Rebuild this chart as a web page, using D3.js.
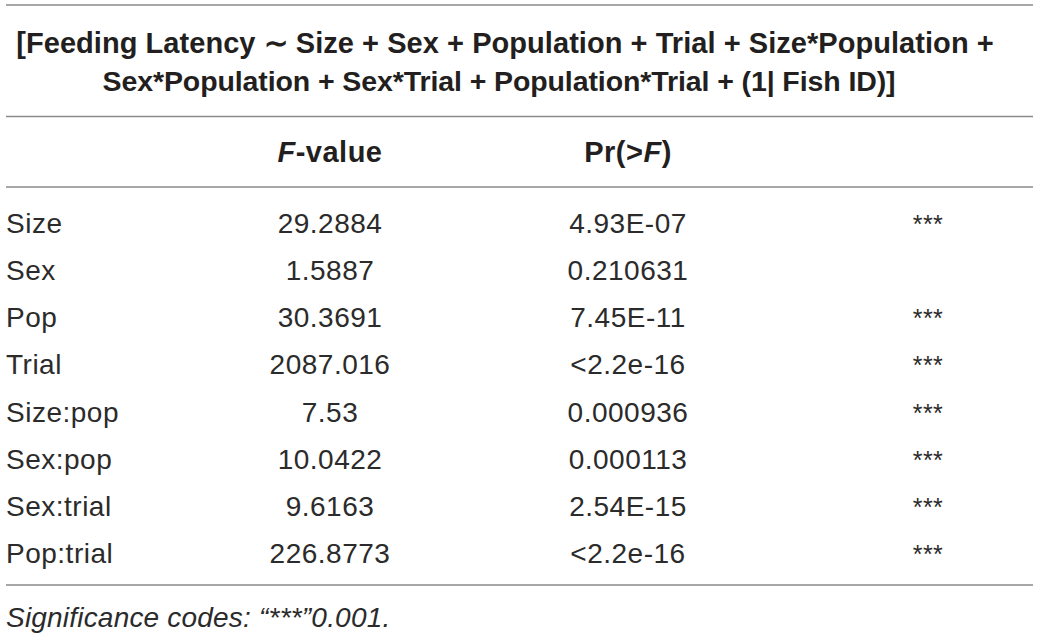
<!DOCTYPE html>
<html>
<head>
<meta charset="utf-8">
<script src="https://cdn.jsdelivr.net/npm/d3@7"></script>
<style>
    html, body { margin: 0; padding: 0; background: #fff; }
    svg text { font-family: "Liberation Sans", Arial, Helvetica, sans-serif; }
</style>
</head>
<body>
<div id="table"></div>
<script>
// table content
const titleLines = [
    "[Feeding Latency \u223C Size + Sex + Population + Trial + Size*Population +",
    "Sex*Population + Sex*Trial + Population*Trial + (1| Fish ID)]"
];
const terms = ["Size", "Sex", "Pop", "Trial", "Size:pop", "Sex:pop", "Sex:trial", "Pop:trial"];
const fValues = ["29.2884", "1.5887", "30.3691", "2087.016", "7.53", "10.0422", "9.6163", "226.8773"];
const pValues = ["4.93E-07", "0.210631", "7.45E-11", "<2.2e-16", "0.000936", "0.000113", "2.54E-15", "<2.2e-16"];
const signif = ["***", "", "***", "***", "***", "***", "***", "***"];
const footnote = "Significance codes: \u201C***\u201D0.001.";

const width = 1040, height = 638;
const left = 6, right = 1033;

const svg = d3.select("#table")
    .append("svg")
    .attr("width", width)
    .attr("height", height);

// horizontal rules
const rules = [5, 116.5, 187, 585];
svg.selectAll(".rule")
    .data(rules)
    .enter()
    .append("line")
    .attr("class", "rule")
    .attr("x1", left)
    .attr("x2", right)
    .attr("y1", d => d)
    .attr("y2", d => d)
    .attr("stroke", "#8a8a8a")
    .attr("stroke-width", 1.6);

// title (second line sits a bit left and tighter in the original)
svg.selectAll(".title")
    .data(titleLines)
    .enter()
    .append("text")
    .attr("class", "title")
    .attr("x", (d, i) => i === 0 ? 505 : 499)
    .attr("y", (d, i) => 53 + i * 38)
    .attr("text-anchor", "middle")
    .attr("font-size", (d, i) => i === 0 ? 29 : 28.5)
    .attr("font-weight", "bold")
    .attr("letter-spacing", (d, i) => i === 0 ? 0.05 : -0.1)
    .attr("fill", "#231f20")
    .text(d => d);

// column positions
const col = { label: left, f: 330, p: 628, s: 928 };

// header
const header = svg.append("g")
    .attr("font-size", 29)
    .attr("font-weight", "bold")
    .attr("letter-spacing", 0.5)
    .attr("fill", "#231f20");
const fHead = header.append("text").attr("x", col.f).attr("y", 162).attr("text-anchor", "middle");
fHead.append("tspan").attr("font-style", "italic").text("F");
fHead.append("tspan").text("-value");
const pHead = header.append("text").attr("x", col.p).attr("y", 162).attr("text-anchor", "middle");
pHead.append("tspan").text("Pr(>");
pHead.append("tspan").attr("font-style", "italic").text("F");
pHead.append("tspan").text(")");

// rows
const y = d3.scalePoint()
    .domain(terms)
    .range([233, 563]);

const rows = svg.selectAll(".row")
    .data(terms.map((t, i) => ({ term: t, f: fValues[i], p: pValues[i], s: signif[i] })))
    .enter()
    .append("g")
    .attr("class", "row")
    .attr("transform", d => `translate(0,${y(d.term)})`)
    .attr("font-size", 28)
    .attr("letter-spacing", 0.5)
    .attr("fill", "#2b2b2b");

rows.append("text").attr("x", col.label).text(d => d.term);
rows.append("text").attr("x", col.f).attr("text-anchor", "middle").text(d => d.f);
rows.append("text").attr("x", col.p).attr("text-anchor", "middle").text(d => d.p);
rows.append("text").attr("x", col.s).attr("text-anchor", "middle").attr("font-size", 25).text(d => d.s);

// footnote
svg.append("text")
    .attr("x", left)
    .attr("y", 627)
    .attr("font-size", 28)
    .attr("font-style", "italic")
    .attr("letter-spacing", 0.2)
    .attr("fill", "#2b2b2b")
    .text(footnote);
</script>
</body>
</html>
